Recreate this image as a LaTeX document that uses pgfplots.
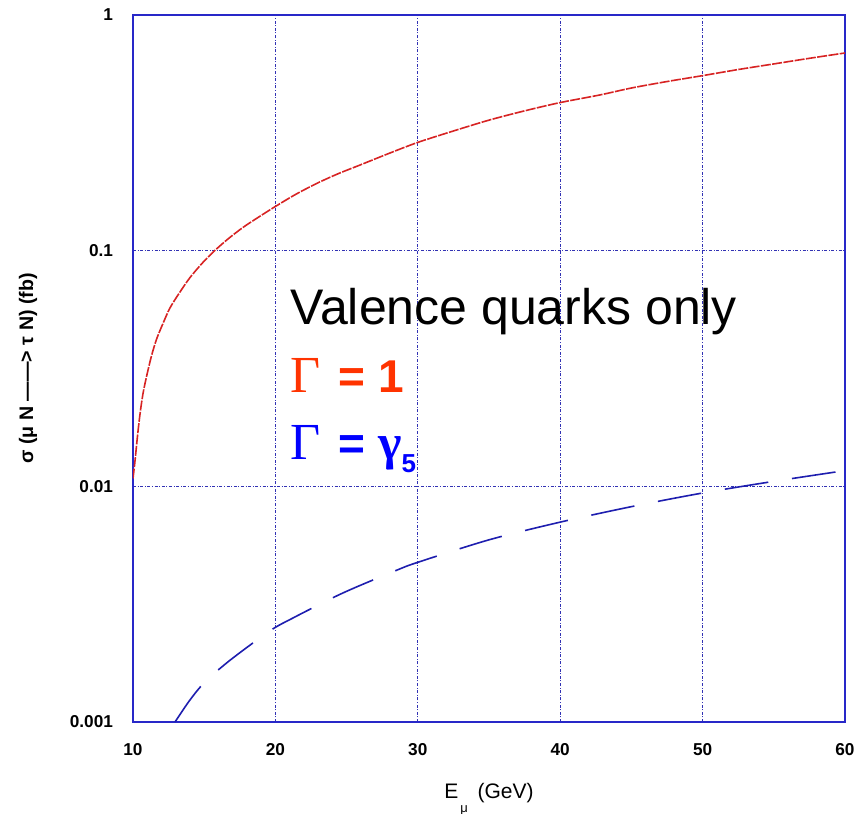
\documentclass[border=0pt]{standalone}
\usepackage{pgfplots}
\pgfplotsset{compat=1.18}
\usepackage{fontspec}
\setmainfont{Liberation Sans}
\newfontfamily\serifgreek{Liberation Serif}
\definecolor{frameblue}{RGB}{40,40,200}
\definecolor{gridblue}{RGB}{50,50,180}
\definecolor{curvered}{RGB}{215,35,35}
\definecolor{curveblue}{RGB}{30,30,175}
\definecolor{textred}{RGB}{255,51,0}
\definecolor{textblue}{RGB}{0,0,255}
\begin{document}
\begin{tikzpicture}
\begin{axis}[
  name=ax,
  scale only axis,
  width=356pt, height=353.5pt,
  xmin=10, xmax=60,
  ymode=log, ymin=0.001, ymax=1,
  xtick={10,20,30,40,50,60},
  ytick={0.001,0.01,0.1,1},
  yticklabels={0.001,0.01,0.1,1},
  xticklabels={10,20,30,40,50,60},
  tick style={draw=none},
  minor tick length=0pt,
  major tick length=0pt,
  grid=major,
  major grid style={gridblue, line width=0.55pt, dash pattern=on 1.5pt off 0.8pt on 0.5pt off 0.8pt},
  axis line style={frameblue, line width=1pt},
  ticklabel style={font=\fontsize{8.6}{10}\selectfont\bfseries},
  xticklabel style={yshift=-7pt},
  yticklabel style={xshift=-6.5pt},
  /pgf/number format/assume math mode=true,
  clip=true,
]
\addplot[curvered, line width=0.8pt, smooth, tension=0.5, dash pattern=on 5pt off 0.7pt] coordinates {
(10.0,0.0108) (10.14,0.0128) (10.3,0.0160) (10.49,0.0202) (10.7,0.0247) (10.96,0.0294)
(11.3,0.0358) (11.66,0.0422) (12.1,0.0490) (12.6,0.0572) (13.3,0.0668) (14.01,0.0770)
(14.9,0.0890) (15.76,0.1003) (16.7,0.1125) (17.75,0.1258) (18.9,0.1398) (20,0.154)
(21.4,0.173) (22.91,0.193) (24.4,0.212) (25.95,0.231) (28,0.259) (30,0.288)
(32.5,0.322) (35,0.358) (37.5,0.392) (40,0.425) (42.8,0.458) (45,0.49)
(47.5,0.522) (50,0.553) (52.5,0.587) (55,0.62) (57.5,0.655) (60,0.69)
};
\addplot[curveblue, line width=0.8pt, smooth, dash pattern=on 22pt off 12pt] coordinates {
(12.95,0.001) (14.0,0.00124) (15.06,0.00148) (16.82,0.00183) (19.63,0.00244)
(21.27,0.00277) (23.96,0.00335) (25.6,0.00372) (28.53,0.00441) (30,0.00476)
(35,0.00593) (40,0.00705) (45,0.0082) (50,0.00937) (55,0.0105) (60,0.01166)
};
\node[anchor=base west, inner sep=0pt, font=\fontsize{25}{30}\selectfont] at (axis cs:21.03,0.0484) {Valence quarks only};
\node[anchor=base west, inner sep=0pt, textred] at (axis cs:21.03,0.0251) {{\fontsize{26}{30}\selectfont\serifgreek Γ}\hspace{9pt}{\fontsize{23}{30}\selectfont\bfseries = 1}};
\node[anchor=base west, inner sep=0pt, textblue] at (axis cs:21.03,0.01294) {{\fontsize{26}{30}\selectfont\serifgreek Γ}\hspace{9pt}{\fontsize{23}{30}\selectfont\bfseries = {\fontsize{25}{30}\selectfont\serifgreek γ}\raisebox{-6.5pt}{\fontsize{13}{15}\selectfont 5}}};
\end{axis}
\node[rotate=90, font=\fontsize{9.8}{11}\selectfont\bfseries] at ([xshift=-52.5pt]ax.west) {σ (μ N ——> τ N) (fb)};
\node[anchor=base, font=\fontsize{10.5}{12}\selectfont] at ([yshift=-38.5pt]ax.south) {E\hspace{1pt}\raisebox{-7pt}{\fontsize{6.5}{7}\selectfont μ}\hspace{2pt} (GeV)};
\pgfresetboundingbox
\path[use as bounding box] (-66.5pt,-46pt) rectangle (365pt,361pt);
\end{tikzpicture}
\end{document}
